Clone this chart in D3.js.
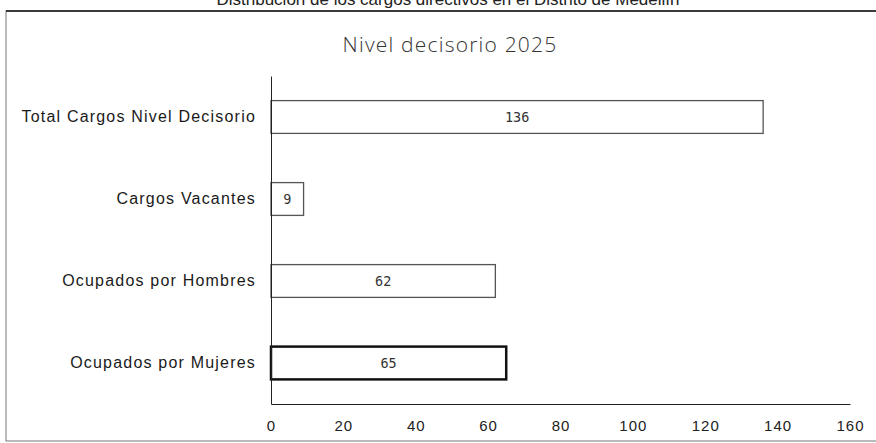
<!DOCTYPE html>
<html>
<head>
<meta charset="utf-8">
<script src="https://cdn.jsdelivr.net/npm/d3@7"></script>
<style>
	body { margin: 0; background: #fff; }
	svg { display: block; }
</style>
</head>
<body>
<svg id="chart" width="876" height="443"></svg>
<script>
// values
const categories = ["Total Cargos Nivel Decisorio", "Cargos Vacantes", "Ocupados por Hombres", "Ocupados por Mujeres"];
const values = [136, 9, 62, 65];
const x_ticks = [0, 20, 40, 60, 80, 100, 120, 140, 160];
const page_title = "Distribución de los cargos directivos en el Distrito de Medellín";
const chart_title = "Nivel decisorio 2025";

const svg = d3.select("#chart");

const x = d3.scaleLinear()
	.domain([0, 160])
	.range([271, 850]);

const y = d3.scaleBand()
	.domain(categories)
	.range([76, 404])
	.paddingInner(0.6)
	.paddingOuter(0.3);

// outer frame (scanned page)
svg.append("rect")
	.attr("x", 6).attr("y", 11)
	.attr("width", 880).attr("height", 430)
	.attr("fill", "none")
	.attr("stroke", "#777")
	.attr("stroke-width", 1);
svg.append("line")
	.attr("x1", 6).attr("x2", 876)
	.attr("y1", 11).attr("y2", 11)
	.attr("stroke", "#111")
	.attr("stroke-width", 1.5);

// page title, cut at the top like in the scan
svg.append("text")
	.attr("x", 448).attr("y", 5)
	.attr("text-anchor", "middle")
	.style("font-family", "Liberation Sans, Arial, sans-serif")
	.style("font-size", "17px")
	.attr("fill", "#222")
	.text(page_title);

svg.append("text")
	.attr("x", 450).attr("y", 52)
	.attr("text-anchor", "middle")
	.style("font-family", "Open Sans, sans-serif")
	.style("font-weight", 300)
	.style("font-size", "21px")
	.style("letter-spacing", "1.2px")
	.attr("fill", "#333")
	.text(chart_title);

// bars
svg.append("g").selectAll(".bar")
	.data(categories)
	.enter()
	.append("rect")
	.classed("bar", true)
	.attr("x", x(0))
	.attr("y", d => y(d))
	.attr("width", (d, i) => x(values[i]) - x(0))
	.attr("height", y.bandwidth())
	.attr("fill", "#fff")
	.attr("stroke", (d, i) => i === 3 ? "#111" : "#555")
	.attr("stroke-width", (d, i) => i === 3 ? 2.5 : 1.3);

// value labels
svg.append("g").selectAll(".val")
	.data(categories)
	.enter()
	.append("text")
	.classed("val", true)
	.attr("x", (d, i) => (x(0) + x(values[i])) / 2)
	.attr("y", d => y(d) + y.bandwidth() / 2)
	.attr("dy", "0.35em")
	.attr("text-anchor", "middle")
	.style("font-family", "DejaVu Sans Mono, monospace")
	.style("font-size", "13.5px")
	.attr("fill", "#333")
	.text((d, i) => values[i]);

// axes
const y_axis = d3.axisLeft(y).tickSize(0).tickPadding(15);
const y_g = svg.append("g")
	.attr("transform", "translate(" + x(0) + ",0)")
	.call(y_axis);
y_g.select(".domain").attr("stroke", "#222");
y_g.selectAll("text")
	.style("font-family", "Liberation Sans, Arial, sans-serif")
	.style("font-size", "16px")
	.style("letter-spacing", "1.2px")
	.attr("fill", "#1a1a1a");

const x_axis = d3.axisBottom(x).tickValues(x_ticks).tickSize(0).tickPadding(16);
const x_g = svg.append("g")
	.attr("transform", "translate(0," + y.range()[1] + ")")
	.call(x_axis);
x_g.select(".domain").attr("stroke", "#222");
x_g.selectAll("text")
	.style("font-family", "Liberation Sans, Arial, sans-serif")
	.style("font-size", "15px")
	.style("letter-spacing", "1px")
	.attr("fill", "#222");
</script>
</body>
</html>
